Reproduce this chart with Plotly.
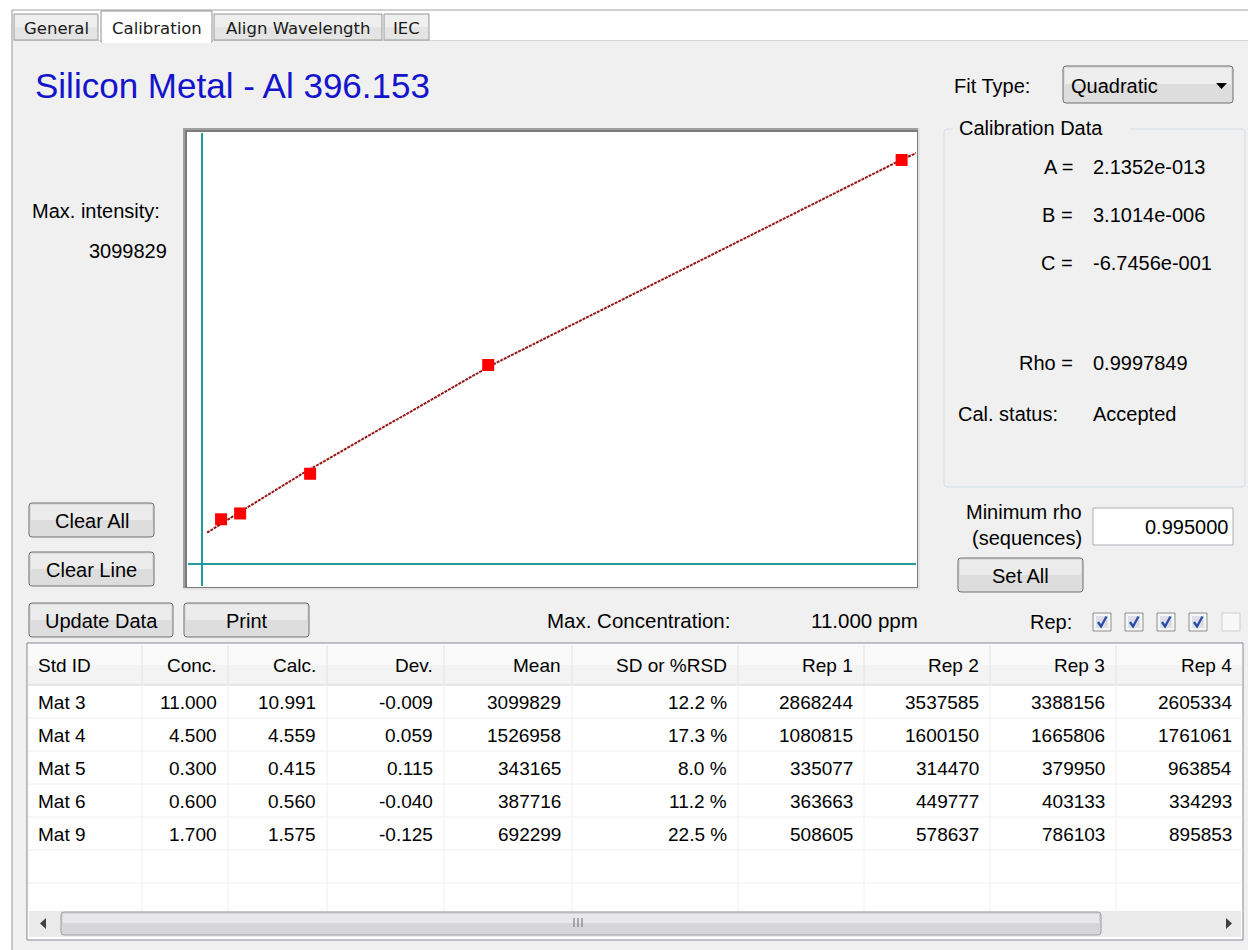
import plotly.graph_objects as go

# ---------------- data ----------------
std_id = ["Mat 3", "Mat 4", "Mat 5", "Mat 6", "Mat 9"]
conc = [11.000, 4.500, 0.300, 0.600, 1.700]
calc = [10.991, 4.559, 0.415, 0.560, 1.575]
dev = [-0.009, 0.059, 0.115, -0.040, -0.125]
mean = [3099829, 1526958, 343165, 387716, 692299]
rsd = [12.2, 17.3, 8.0, 11.2, 22.5]
rep1 = [2868244, 1080815, 335077, 363663, 508605]
rep2 = [3537585, 1600150, 314470, 449777, 578637]
rep3 = [3388156, 1665806, 379950, 403133, 786103]
rep4 = [2605334, 1761061, 963854, 334293, 895853]
col_headers = ["Std ID", "Conc.", "Calc.", "Dev.", "Mean", "SD or %RSD", "Rep 1", "Rep 2", "Rep 3", "Rep 4"]

# ends of the drawn calibration line: (conc, intensity)
line_start = (0.08, 240000)
line_end = (11.23, 3153000)

coef_labels = ["A =", "B =", "C ="]
coef_values = ["2.1352e-013", "3.1014e-006", "-6.7456e-001"]
rho_value = "0.9997849"
cal_status = "Accepted"
fit_type = "Quadratic"
max_intensity = "3099829"
max_conc = "11.000 ppm"
min_rho = "0.995000"
rep_checked = [True, True, True, True, False]
tabs = ["General", "Calibration", "Align Wavelength", "IEC"]

# ---------------- helpers ----------------
W, H = 1248, 950
def px(x): return x / W
def py(y): return 1 - y / H

shapes, anns = [], []
NONE = "rgba(0,0,0,0)"

def rect(x0, y0, x1, y1, fill=None, line=None, lw=1):
    shapes.append(dict(type="rect", xref="paper", yref="paper",
                       x0=px(x0), x1=px(x1), y0=py(y0), y1=py(y1),
                       fillcolor=fill or NONE,
                       line=dict(color=line or NONE, width=lw if line else 0),
                       layer="below"))

def seg(x0, y0, x1, y1, color, w=1):
    shapes.append(dict(type="line", xref="paper", yref="paper",
                       x0=px(x0), x1=px(x1), y0=py(y0), y1=py(y1),
                       line=dict(color=color, width=w), layer="below"))

def P(a, b): return f"{px(a):.6f},{py(b):.6f}"

def rrect(x0, y0, x1, y1, r, fill=None, line=None, lw=1):
    d = (f"M {P(x0+r,y0)} L {P(x1-r,y0)} Q {P(x1,y0)} {P(x1,y0+r)} L {P(x1,y1-r)} "
         f"Q {P(x1,y1)} {P(x1-r,y1)} L {P(x0+r,y1)} Q {P(x0,y1)} {P(x0,y1-r)} "
         f"L {P(x0,y0+r)} Q {P(x0,y0)} {P(x0+r,y0)} Z")
    shapes.append(dict(type="path", xref="paper", yref="paper", path=d,
                       fillcolor=fill or NONE,
                       line=dict(color=line or NONE, width=lw if line else 0),
                       layer="below"))

def poly(pts, fill=None, line=None, lw=1, closed=True):
    d = "M " + " L ".join(P(a, b) for a, b in pts) + (" Z" if closed else "")
    shapes.append(dict(type="path", xref="paper", yref="paper", path=d,
                       fillcolor=fill or NONE,
                       line=dict(color=line or NONE, width=lw if line else 0),
                       layer="below"))

FONT = "Liberation Sans"
def text(x, y, s, anchor="left", size=20, color="#000000", family=FONT):
    anns.append(dict(x=px(x), y=py(y), xref="paper", yref="paper", text=s,
                     showarrow=False, xanchor=anchor, yanchor="middle",
                     font=dict(family=family, size=size, color=color)))

def button(x0, y0, x1, y1, label):
    rrect(x0, y0, x1, y1, 3, fill="#DDDDDD", line="#707070", lw=1)
    rect(x0 + 2, y0 + 2, x1 - 2, (y0 + y1) / 2, fill="#ECECEC")
    text((x0 + x1) / 2, (y0 + y1) / 2 + 1, label, "center", 20)

# ---------------- window frame & tabs ----------------
rect(13, 41, 1248, 950, fill="#F0F0F0")
seg(12, 10, 1248, 10, "#A0A0A0")
seg(12, 10, 12, 950, "#8E8F8F")
seg(13, 40.5, 1248, 40.5, "#D4D4D4")
tab_x = [(14, 98), (101, 212), (214, 382), (384, 429)]
for (a, b), name in zip(tab_x, tabs):
    if name == "Calibration":
        rect(a, 11, b, 42, fill="#FFFFFF", line="#8E8F8F")
        rect(a + 1, 38, b - 1, 43, fill="#FFFFFF")
    else:
        rect(a, 14, b, 40, fill="#E4E4E4", line="#9A9A9A")
        rect(a + 1, 15, b - 1, 27, fill="#EFEFEF")
    text((a + b) / 2, 28, name, "center", 16.5, "#1A1A1A", "DejaVu Sans")

# title
text(33, 85, "Silicon Metal - Al 396.153", "left", 35, "#1414CC")

# ---------------- left controls ----------------
text(30, 211, "Max. intensity:", "left", 20)
text(169, 251, max_intensity, "right", 20)
button(29, 503, 154, 537, "Clear All")
button(29, 552, 154, 586, "Clear Line")
button(29, 603, 173, 637, "Update Data")
button(184, 603, 309, 637, "Print")

# ---------------- plot frame ----------------
rect(183, 128, 920, 590, fill="#E3E3E3")
rect(183, 128, 918, 588, fill="#A0A0A0")
rect(185, 130, 918, 588, fill="#7A7A7A")
rect(187, 132, 917, 587, fill="#FFFFFF")

# ---------------- right panel ----------------
text(952, 86, "Fit Type:", "left", 20)
rrect(1063, 66, 1233, 103, 3, fill="#DDDDDD", line="#707070")
rect(1065, 68, 1231, 84, fill="#EEEEEE")
text(1069, 86, fit_type, "left", 20)
poly([(1216, 83), (1227, 83), (1221.5, 89)], fill="#000000")

rrect(944, 129, 1245, 487, 3, line="#D5DFE5")
rect(953, 118, 1130, 138, fill="#F0F0F0")
text(957, 128, "Calibration Data", "left", 20)
for i, (lab, val) in enumerate(zip(coef_labels, coef_values)):
    yy = 167 + 48 * i
    text(1075, yy, lab, "right", 20)
    text(1091, yy, val, "left", 20)
text(1075, 363, "Rho =", "right", 20)
text(1091, 363, rho_value, "left", 20)
text(956, 414, "Cal. status:", "left", 20)
text(1091, 414, cal_status, "left", 20)

text(1084, 512, "Minimum rho", "right", 20)
text(1084, 538, "(sequences)", "right", 20)
rect(1093, 508, 1233, 545, fill="#FFFFFF", line="#ABADB3")
text(1230, 527, min_rho, "right", 20)
button(958, 558, 1083, 592, "Set All")

text(545, 620, "Max. Concentration:", "left", 20.5)
text(809, 620, max_conc, "left", 20.5)
text(1074, 622, "Rep:", "right", 20)
cb_x = [1093, 1125, 1157, 1189, 1222]
for xx, chk in zip(cb_x, rep_checked):
    if chk:
        rect(xx, 613, xx + 18, 631, fill="#F4F4F4", line="#8E8F8F")
        rect(xx + 3, 616, xx + 15, 628, fill="#DCE0E6")
        poly([(xx + 5, 622), (xx + 8, 626.5), (xx + 13.5, 616.5)], line="#2A4FA8", lw=2.4, closed=False)
    else:
        rect(xx, 613, xx + 18, 631, fill="#F7F7F7", line="#CFCFCF")

# ---------------- table ----------------
rect(27, 643, 1243, 940, fill="#FFFFFF", line="#828790")
rect(28, 644, 1242, 685, fill="#FAFAFA")
rect(28, 665, 1242, 685, fill="#F3F3F3")
seg(28, 685, 1242, 685, "#D5D5D5")
col_edges = [142, 228, 327, 444, 572, 738, 864, 990, 1116]
for xe in col_edges:
    seg(xe, 645, xe, 685, "#E2E2E2")
    seg(xe, 686, xe, 911, "#F0F0F0")
row_h = 33
for k in range(1, 7):
    seg(28, 685 + k * row_h, 1242, 685 + k * row_h, "#F0F0F0")

right_edges = col_edges[1:] + [1243]
TS = 19
text(36, 665, col_headers[0], "left", TS)
for h, xe in zip(col_headers[1:], right_edges):
    text(xe - 9, 665, h, "right", TS)

for r in range(len(std_id)):
    yy = 702 + r * row_h
    cells = [f"{conc[r]:.3f}", f"{calc[r]:.3f}", f"{dev[r]:.3f}", f"{mean[r]}",
             f"{rsd[r]:.1f} %", f"{rep1[r]}", f"{rep2[r]}", f"{rep3[r]}", f"{rep4[r]}"]
    text(36, yy, std_id[r], "left", TS)
    for c, xe in zip(cells, right_edges):
        text(xe - 9, yy, c, "right", TS)

# scrollbar
rect(29, 911, 1241, 937, fill="#EAEAEA")
rrect(61, 912, 1101, 935, 3, fill="#D6D6D8", line="#9F9FA0")
rect(63, 914, 1099, 923, fill="#E8E8EA")
for gx in (574, 578, 582):
    seg(gx, 918, gx, 927, "#6A6A6A")
poly([(40, 923.5), (46, 918), (46, 929)], fill="#404040")
poly([(1232, 923.5), (1226, 918), (1226, 929)], fill="#404040")

# ---------------- chart traces ----------------
pairs = sorted(zip(mean, calc))
line_x = [line_start[0]] + [c for _, c in pairs] + [line_end[0]]
line_y = [line_start[1]] + [m for m, _ in pairs] + [line_end[1]]

fig = go.Figure()
fig.add_trace(go.Scatter(x=line_x, y=line_y, mode="lines",
                         line=dict(color="#981818", width=2, dash="3px,1px"),
                         hoverinfo="skip"))
fig.add_trace(go.Scatter(x=conc, y=mean, mode="markers",
                         marker=dict(symbol="square", size=12, color="#FF0000", line=dict(width=0)),
                         hoverinfo="skip"))

fig.update_layout(
    width=W, height=H, margin=dict(l=0, r=0, t=0, b=0),
    paper_bgcolor="#FFFFFF", plot_bgcolor=NONE, showlegend=False,
    xaxis=dict(domain=[px(188), px(916)], range=[-0.220, 11.226],
               showgrid=False, zeroline=True, zerolinecolor="#209A9A", zerolinewidth=2,
               showticklabels=False, ticks="", showline=False, fixedrange=True),
    yaxis=dict(domain=[py(586), py(133)], range=[-168800, 3306700],
               showgrid=False, zeroline=True, zerolinecolor="#209A9A", zerolinewidth=2,
               showticklabels=False, ticks="", showline=False, fixedrange=True),
    shapes=shapes, annotations=anns, hovermode=False,
)

fig.write_html("out.html", config={"displayModeBar": False})
